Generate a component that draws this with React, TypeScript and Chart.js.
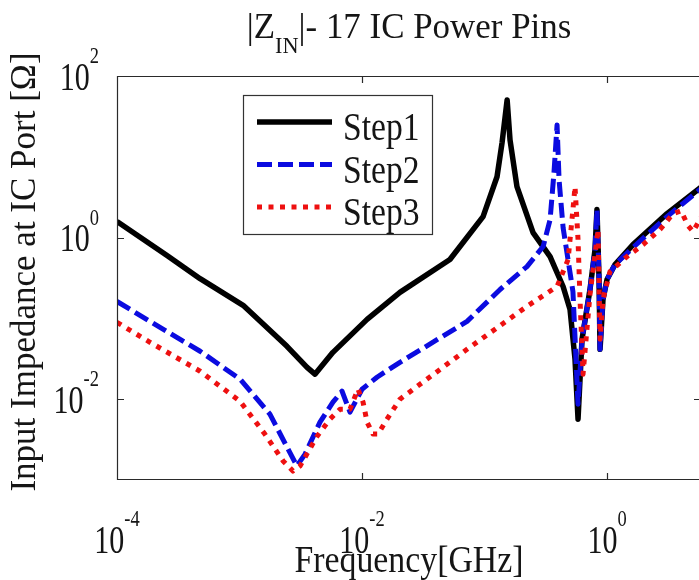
import { useEffect, useRef } from "react";
import { Chart, registerables } from "chart.js";

Chart.register(...registerables);

// Step 1 input impedance |Z_IN| vs frequency (GHz, Ohm)
const freqStep1 = [
  1e-4, 2.56e-4, 4.77e-4, 1.07e-3, 2.44e-3, 3.56e-3, 4.13e-3, 5.79e-3, 1.1e-2,
  2.04e-2, 5.22e-2, 9.73e-2, 0.1265, 0.139, 0.153, 0.1615, 0.184, 0.249, 0.343,
  0.438, 0.499, 0.548, 0.58, 0.625, 0.726, 0.798, 0.828, 0.861, 0.877, 0.927,
  1.0, 1.162, 1.63, 3.09, 5.85,
];
const zinStep1 = [
  1.58, 0.6, 0.31, 0.145, 0.0451, 0.0248, 0.0204, 0.038, 0.0973, 0.21, 0.535,
  1.82, 5.66, 14.9, 50.6, 16.2, 4.27, 1.15, 0.582, 0.248, 0.129, 0.0312,
  0.00566, 0.0551, 0.228, 0.711, 2.22, 0.303, 0.0414, 0.172, 0.303, 0.464, 0.82,
  1.98, 4.2,
];

// Step 2
const freqStep2 = [
  1e-4, 1.86e-4, 4.77e-4, 1.01e-3, 1.77e-3, 2.49e-3, 2.94e-3, 3.43e-3, 4.54e-3,
  5.79e-3, 6.87e-3, 7.98e-3, 0.01, 0.01325, 0.0204, 0.072, 0.134, 0.222, 0.301,
  0.343, 0.369, 0.391, 0.406, 0.438, 0.527, 0.58, 0.625, 0.726, 0.798, 0.828,
  0.861, 0.877, 0.927, 1.0, 1.162, 1.63, 3.09, 5.85,
];
const zinStep2 = [
  0.162, 0.0918, 0.0392, 0.0177, 0.00653, 0.00242, 0.00149, 0.00209, 0.0052,
  0.00918, 0.01256, 0.00692, 0.01327, 0.0187, 0.0286, 0.0918, 0.228, 0.438,
  0.775, 1.67, 6.34, 24.8, 5.2, 1.33, 0.215, 0.00867, 0.0551, 0.228, 0.711, 2.22,
  0.303, 0.0414, 0.172, 0.303, 0.464, 0.754, 1.82, 4.03,
];

// Step 3
const freqStep3 = [
  1e-4, 1.86e-4, 4.77e-4, 1.01e-3, 1.61e-3, 2.27e-3, 2.73e-3, 3.12e-3, 4.3e-3,
  5.48e-3, 6.61e-3, 7.98e-3, 9.27e-3, 1.02e-2, 0.011, 0.0123, 0.0135, 0.016,
  0.0204, 0.072, 0.222, 0.391, 0.481, 0.527, 0.548, 0.58, 0.602, 0.637, 0.726,
  0.798, 0.845, 0.877, 0.927, 1.057, 1.456, 1.97, 2.71, 3.46, 4.02, 4.58, 5.04,
  5.85,
];
const zinStep3 = [
  0.0893, 0.0506, 0.0222, 0.00944, 0.0037, 0.00172, 0.00129, 0.00149, 0.00349,
  0.00566, 0.00753, 0.00753, 0.0133, 0.00918, 0.0052, 0.0037, 0.0037, 0.00566,
  0.01, 0.0414, 0.141, 0.248, 0.535, 2.22, 4.27, 0.944, 0.172, 0.0204, 0.198,
  0.617, 1.26, 0.0551, 0.172, 0.38, 0.582, 0.82, 1.26, 1.98, 2.15, 1.41, 1.19,
  1.77,
];

const seriesNames = ["Step1", "Step2", "Step3"];

// Labelled decades on each axis (tick label = 10^exponent)
const xTickExponents = [-4, -2, 0];
const yTickExponents = [-2, 0, 2];

const titleMain = "|Z";
const titleSub = "IN";
const titleRest = "|- 17 IC Power Pins";
const xAxisTitle = "Frequency[GHz]";
const yAxisTitle = "Input Impedance at IC Port [\u03A9]";

const FONT = '"Liberation Serif", "Times New Roman", serif';
const TEXT_COLOR = "#151515";
const AXIS_COLOR = "#2a2a2a";

const seriesStyles = [
  { color: "#000000", width: 5.5, dash: [] as number[] },
  { color: "#0b0be0", width: 5, dash: [15, 6] },
  { color: "#ee1010", width: 5, dash: [5, 6.5] },
];

function textWidth(ctx: CanvasRenderingContext2D, text: string, size: number, sx: number) {
  ctx.font = `${size}px ${FONT}`;
  return ctx.measureText(text).width * sx;
}

function drawText(
  ctx: CanvasRenderingContext2D,
  text: string,
  x: number,
  y: number,
  size: number,
  sx: number,
  align: "left" | "center" | "right" = "left"
) {
  const w = textWidth(ctx, text, size, sx);
  const x0 = align === "center" ? x - w / 2 : align === "right" ? x - w : x;
  ctx.save();
  ctx.font = `${size}px ${FONT}`;
  ctx.textAlign = "left";
  ctx.textBaseline = "alphabetic";
  ctx.fillStyle = TEXT_COLOR;
  ctx.translate(x0, y);
  ctx.scale(sx, 1);
  ctx.fillText(text, 0, 0);
  ctx.restore();
  return w;
}

const BASE_SIZE = 39;
const EXP_SIZE = 24;
const TICK_SX = 0.77;
const TICK_LEN = 7;

const decoratePlugin = {
  id: "matlabFrame",
  afterDatasetsDraw(chart: any) {
    const ctx: CanvasRenderingContext2D = chart.ctx;
    const { left, right, top, bottom } = chart.chartArea;
    const xs = chart.scales.x;
    const ys = chart.scales.y;

    // axes box with inward ticks
    ctx.save();
    ctx.strokeStyle = AXIS_COLOR;
    ctx.lineWidth = 1.2;
    ctx.beginPath();
    ctx.rect(left + 0.5, top + 0.5, right - left - 1, bottom - top - 1);
    xTickExponents.forEach((e) => {
      const px = Math.round(xs.getPixelForValue(Math.pow(10, e))) + 0.5;
      ctx.moveTo(px, bottom);
      ctx.lineTo(px, bottom - TICK_LEN);
      ctx.moveTo(px, top);
      ctx.lineTo(px, top + TICK_LEN);
    });
    yTickExponents.forEach((e) => {
      const py = Math.round(ys.getPixelForValue(Math.pow(10, e))) + 0.5;
      ctx.moveTo(left, py);
      ctx.lineTo(left + TICK_LEN, py);
      ctx.moveTo(right, py);
      ctx.lineTo(right - TICK_LEN, py);
    });
    ctx.stroke();
    ctx.restore();

    // x tick labels
    xTickExponents.forEach((e) => {
      const px = xs.getPixelForValue(Math.pow(10, e));
      const expText = String(e);
      const wb = textWidth(ctx, "10", BASE_SIZE, TICK_SX);
      const we = textWidth(ctx, expText, EXP_SIZE, TICK_SX);
      const x0 = px - (wb + we) / 2;
      drawText(ctx, "10", x0, bottom + 73, BASE_SIZE, TICK_SX);
      drawText(ctx, expText, x0 + wb, bottom + 46, EXP_SIZE, TICK_SX);
    });

    // y tick labels
    yTickExponents.forEach((e) => {
      const py = ys.getPixelForValue(Math.pow(10, e));
      const expText = String(e);
      const wb = textWidth(ctx, "10", BASE_SIZE, TICK_SX);
      const we = textWidth(ctx, expText, EXP_SIZE, TICK_SX);
      const x0 = left - 18 - (wb + we);
      drawText(ctx, "10", x0, py + 13.5, BASE_SIZE, TICK_SX);
      drawText(ctx, expText, x0 + wb, py - 13, EXP_SIZE, TICK_SX);
    });

    // title with subscript
    const tSize = 36;
    const tSx = 0.97;
    const subSize = 23;
    const w1 = textWidth(ctx, titleMain, tSize, tSx);
    const w2 = textWidth(ctx, titleSub, subSize, tSx);
    const w3 = textWidth(ctx, titleRest, tSize, tSx);
    const cx = (left + right) / 2;
    let tx = cx - (w1 + w2 + w3) / 2;
    tx += drawText(ctx, titleMain, tx, 38, tSize, tSx);
    tx += drawText(ctx, titleSub, tx, 53, subSize, tSx);
    drawText(ctx, titleRest, tx, 38, tSize, tSx);

    // axis titles
    drawText(ctx, xAxisTitle, cx, 572, 38, 0.89, "center");
    ctx.save();
    ctx.translate(35, (top + bottom) / 2 - 6);
    ctx.rotate(-Math.PI / 2);
    drawText(ctx, yAxisTitle, 0, 0, 35, 1, "center");
    ctx.restore();

    // legend
    const lx = 243;
    const ly = 95;
    const lw = 189;
    const lh = 139;
    ctx.save();
    ctx.fillStyle = "#ffffff";
    ctx.fillRect(lx, ly, lw, lh);
    ctx.strokeStyle = "#333333";
    ctx.lineWidth = 1.2;
    ctx.strokeRect(lx + 0.5, ly + 0.5, lw, lh);
    ctx.restore();
    seriesNames.forEach((name, i) => {
      const rowY = 122 + i * 42.5;
      const st = seriesStyles[i];
      ctx.save();
      ctx.strokeStyle = st.color;
      ctx.lineWidth = st.width;
      ctx.lineCap = "butt";
      ctx.setLineDash(st.dash);
      ctx.beginPath();
      ctx.moveTo(257, rowY);
      ctx.lineTo(332, rowY);
      ctx.stroke();
      ctx.restore();
      drawText(ctx, name, 343, rowY + 18, 40, 0.84);
    });
  },
};

export default function App() {
  const canvasRef = useRef<HTMLCanvasElement>(null);

  useEffect(() => {
    if (!canvasRef.current) return;
    const freqs = [freqStep1, freqStep2, freqStep3];
    const zins = [zinStep1, zinStep2, zinStep3];
    const chart = new Chart(canvasRef.current, {
      type: "line",
      data: {
        datasets: seriesNames.map((name, i) => ({
          label: name,
          data: freqs[i].map((f, k) => ({ x: f, y: zins[i][k] })),
          borderColor: seriesStyles[i].color,
          borderWidth: seriesStyles[i].width,
          borderDash: seriesStyles[i].dash,
          borderCapStyle: "butt" as const,
          borderJoinStyle: "round" as const,
          pointRadius: 0,
          tension: 0,
          fill: false,
          order: 3 - i,
        })),
      },
      options: {
        animation: false,
        responsive: false,
        devicePixelRatio: 1,
        parsing: true,
        layout: { padding: { left: 117, top: 76, right: 4, bottom: 100 } },
        scales: {
          x: { type: "logarithmic", min: 1e-4, max: 5.85, display: false },
          y: { type: "logarithmic", min: 1e-3, max: 1e2, display: false },
        },
        plugins: {
          legend: { display: false },
          title: { display: false },
          tooltip: { enabled: false },
        },
      },
      plugins: [decoratePlugin],
    });
    return () => chart.destroy();
  }, []);

  return (
    <div
      style={{
        position: "fixed",
        left: 0,
        top: 0,
        width: 699,
        height: 580,
        overflow: "hidden",
        background: "#ffffff",
      }}
    >
      <canvas
        ref={canvasRef}
        width={705}
        height={580}
        style={{ display: "block", width: 705, height: 580 }}
      />
    </div>
  );
}
